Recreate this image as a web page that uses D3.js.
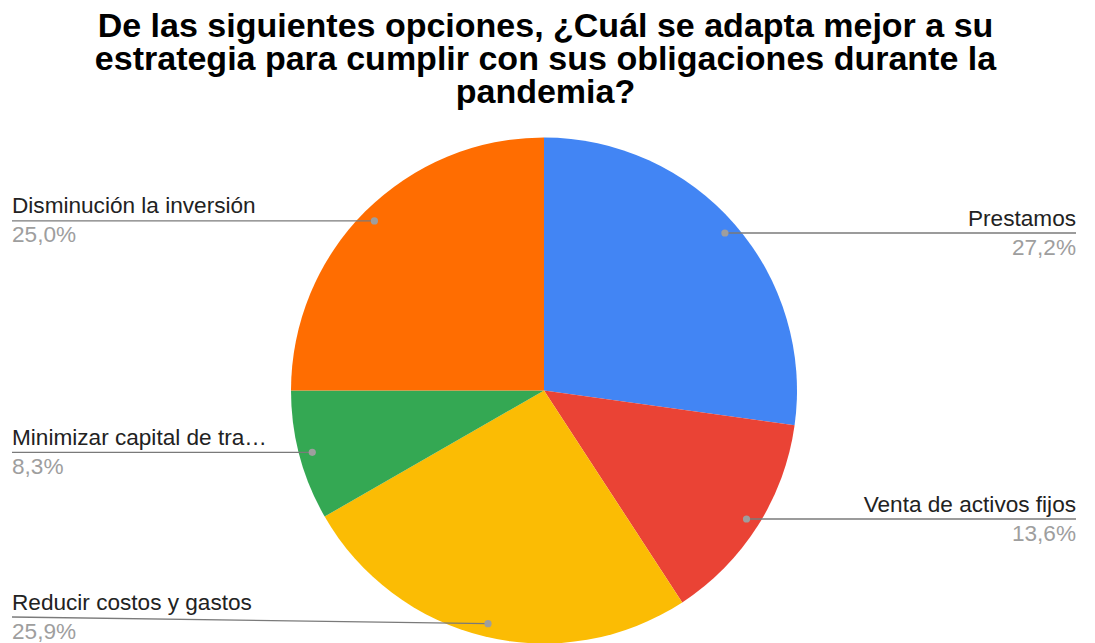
<!DOCTYPE html>
<html>
<head>
<meta charset="utf-8">
<script src="https://cdn.jsdelivr.net/npm/d3@7/dist/d3.min.js"></script>
<style>
  html, body { margin: 0; padding: 0; background: #fff; }
  svg { display: block; }
</style>
</head>
<body>
<svg id="chart" width="1095" height="643"></svg>
<script>
// Survey answers, clockwise from 12 o'clock
const categories = [
  "Prestamos",
  "Venta de activos fijos",
  "Reducir costos y gastos",
  "Minimizar capital de trabajo",
  "Disminución la inversión"
];
const shortLabels = [
  "Prestamos",
  "Venta de activos fijos",
  "Reducir costos y gastos",
  "Minimizar capital de tra…",
  "Disminución la inversión"
];
const values = [27.2, 13.6, 25.9, 8.3, 25.0];
const colors = ["#4285F4", "#EA4335", "#FBBC04", "#34A853", "#FF6D01"];
const titleLines = [
  "De las siguientes opciones, ¿Cuál se adapta mejor a su",
  "estrategia para cumplir con sus obligaciones durante la",
  "pandemia?"
];

const svg = d3.select("#chart");
const W = 1095;
const cx = 544, cy = 390.5, R = 253;

// Title
svg.append("g").selectAll("text")
  .data(titleLines)
  .join("text")
  .attr("x", W / 2 - 2)
  .attr("y", (d, i) => 37 + i * 33)
  .attr("text-anchor", "middle")
  .attr("font-family", "'Liberation Sans', Arial, sans-serif")
  .attr("font-weight", "bold")
  .attr("font-size", 34)
  .attr("fill", "#000")
  .text(d => d);

const data = categories.map((c, i) => ({ name: c, label: shortLabels[i], value: values[i], color: colors[i] }));

const pie = d3.pie().value(d => d.value).sort(null);
const arcs = pie(data);
const arc = d3.arc().innerRadius(0).outerRadius(R);

const g = svg.append("g").attr("transform", `translate(${cx},${cy})`);
g.selectAll("path")
  .data(arcs)
  .join("path")
  .attr("d", arc)
  .attr("fill", d => d.data.color);

// Leader lines and labels
const fmt = v => d3.format(".1f")(v).replace(".", ",") + "%";
const dotR = R * 0.948;
const labelFont = "'Liberation Sans', Arial, sans-serif";
const labelSize = 22.6;
const leftX = 12, rightX = 1076;

const labels = svg.append("g");
arcs.forEach(a => {
  const mid = (a.startAngle + a.endAngle) / 2;
  const px = cx + dotR * Math.sin(mid);
  const py = cy - dotR * Math.cos(mid);
  const right = Math.sin(mid) > 0;
  // label line cannot sit below the bottom row of text
  const ly = Math.min(py, 617);
  const endX = right ? rightX : leftX;

  labels.append("path")
    .attr("d", `M${endX},${ly}L${px},${py}`)
    .attr("stroke", "#7a7a7a")
    .attr("stroke-width", 1.3)
    .attr("fill", "none");
  labels.append("circle")
    .attr("cx", px).attr("cy", py).attr("r", 3.6)
    .attr("fill", "#9e9e9e");

  labels.append("text")
    .attr("x", endX)
    .attr("y", ly - 7.5)
    .attr("text-anchor", right ? "end" : "start")
    .attr("font-family", labelFont)
    .attr("font-size", labelSize)
    .attr("fill", "#222")
    .text(a.data.label);
  labels.append("text")
    .attr("x", endX)
    .attr("y", ly + 21.5)
    .attr("text-anchor", right ? "end" : "start")
    .attr("font-family", labelFont)
    .attr("font-size", labelSize)
    .attr("fill", "#9e9e9e")
    .text(fmt(a.data.value));
});
</script>
</body>
</html>
